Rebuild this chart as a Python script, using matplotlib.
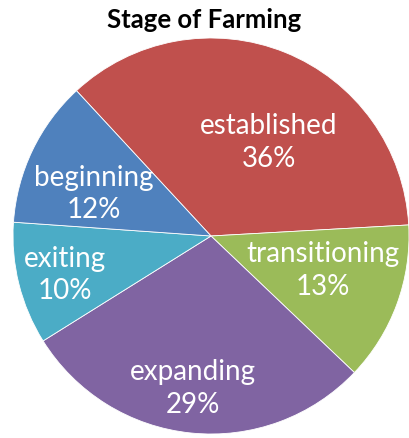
import numpy as np
import matplotlib
matplotlib.use("Agg")
import matplotlib.pyplot as plt

title = "Stage of Farming"
categories = ["established", "transitioning", "expanding", "exiting", "beginning"]
values = [36, 13, 29, 10, 12]
colors = ["#C0504D", "#9BBB59", "#8064A2", "#4BACC6", "#4F81BD"]

# label placement style (fraction of radius, angle offset in degrees)
label_r = [0.56, 0.59, 0.77, 0.76, 0.63]
label_dang = [-9.5, 3.5, -1.0, 0.5, 5.5]

plt.rcParams['font.family'] = ['Lato', 'DejaVu Sans']

fig = plt.figure(figsize=(4.09, 4.39), dpi=100)
cx, cy, R = 211, 237, 199
W, H = 409, 439
ax = fig.add_axes([(cx - R) / W, (H - cy - R) / H, 2 * R / W, 2 * R / H])
wedges, _ = ax.pie(values, colors=colors, startangle=132.8, counterclock=False,
                   radius=1, wedgeprops=dict(edgecolor="white", linewidth=0.6))
ax.set_xlim(-1.005, 1.005)
ax.set_ylim(-1.005, 1.005)
ax.set_aspect('equal')
ax.axis('off')

total = sum(values)
for w, cat, v, r, da in zip(wedges, categories, values, label_r, label_dang):
    ang = np.deg2rad((w.theta1 + w.theta2) / 2 + da)
    x, y = r * np.cos(ang), r * np.sin(ang)
    ax.text(x, y, f"{cat}\n{round(100 * v / total)}%", ha="center", va="center",
            color="white", fontsize=20, linespacing=1.3)

fig.text(0.5, 1 - 20 / H, title, ha="center", va="center", fontsize=18.5,
         fontweight="bold", color="black")

fig.savefig("out.png", dpi=100)
